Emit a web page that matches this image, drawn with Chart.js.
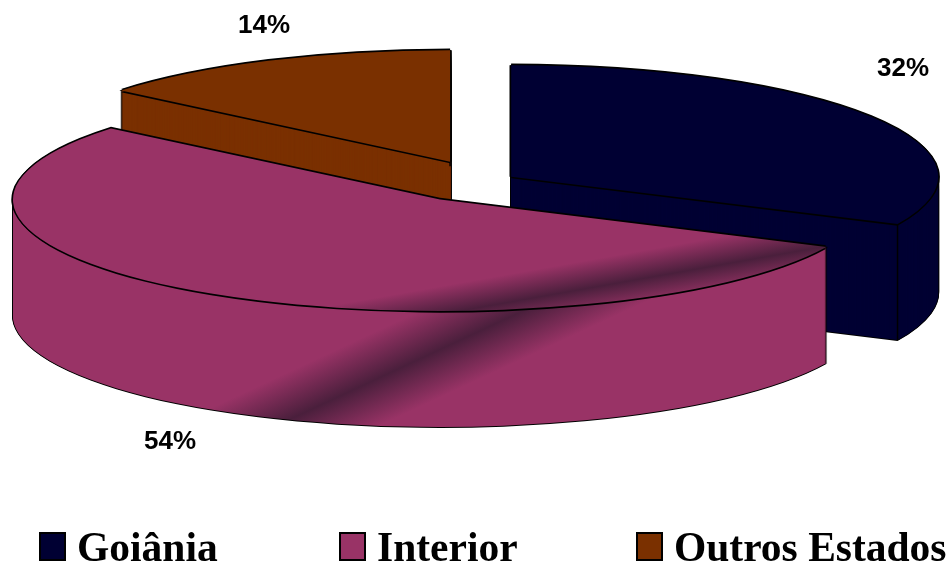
<!DOCTYPE html>
<html>
<head>
<meta charset="utf-8">
<style>
  html, body { margin: 0; padding: 0; background: #fff; }
  canvas { display: block; }
</style>
<script src="https://cdn.jsdelivr.net/npm/chart.js@4/dist/chart.umd.min.js"></script>
</head>
<body>
<canvas id="pie" width="950" height="564"></canvas>
<script>
const categories = ['Goiânia', 'Interior', 'Outros Estados'];
const shares = [32, 54, 14];

const faceColors = ['#000033', '#993366', '#7a3000'];
const SHADE = '#4a1f3c';

// Projection of the flat pie onto a tilted disc with a thick wall.
const TILT = 0.261;
const DEPTH = 116;
const RADIUS = 427;
const HUB = { x: 485, y: 181 };
const pullOut = [31, 84, 82];
const paintOrder = [0, 2, 1];

const pctFont = 'bold 26px "Liberation Sans", Arial, sans-serif';
const pctSpots = [[903, 69], [170, 442], [264, 26]];
const legendFont = 'bold 41.5px "Liberation Serif", "Times New Roman", serif';
const legendBoxes = [40, 340, 637];
const LEGEND_TOP = 533;
const LEGEND_BOX = 25;
const LEGEND_H = 27;
const LEGEND_GAP = 12;

function origin(arc, i) {
  const mid = (arc.startAngle + arc.endAngle) / 2;
  return {
    x: HUB.x + Math.cos(mid) * pullOut[i],
    y: HUB.y + Math.sin(mid) * pullOut[i] * TILT
  };
}

// Fills one arc element through the tilt transform, shifted by (ox, oy) on screen.
function paintArc(ctx, arc, i, ox, oy, fill) {
  const o = origin(arc, i);
  const saved = arc.options;
  const tx = o.x + ox, ty = o.y + oy;
  arc.options = Object.assign({}, saved, {
    backgroundColor: typeof fill === 'function' ? fill(tx, ty, arc) : fill,
    borderWidth: 0
  });
  ctx.save();
  ctx.translate(tx, ty);
  ctx.scale(1, TILT);
  ctx.translate(-arc.x, -arc.y);
  arc.draw(ctx);
  ctx.restore();
  arc.options = saved;
}

// Diagonal dark band given by two screen points, expressed in the tilted space.
function band(ctx, a, b, halfHeight, colors) {
  return (tx, ty, arc) => {
    const toUser = p => ({ x: p.x - tx + arc.x, y: (p.y - ty) / TILT + arc.y });
    const ua = toUser(a), ub = toUser(b);
    const dx = ub.x - ua.x, dy = ub.y - ua.y, len = Math.hypot(dx, dy);
    const n = { x: -dy / len, y: dx / len };
    const reach = (halfHeight / TILT) * n.y;
    const g = ctx.createLinearGradient(
      ua.x - n.x * reach, ua.y - n.y * reach,
      ua.x + n.x * reach, ua.y + n.y * reach);
    g.addColorStop(0, colors[0]);
    g.addColorStop(0.5, colors[1]);
    g.addColorStop(1, colors[0]);
    return g;
  };
}

const tiltedPie = {
  id: 'tiltedPie',
  beforeDatasetsDraw(chart) {
    const ctx = chart.ctx;
    const arcs = chart.getDatasetMeta(0).data;
    const halo = [[-1, 0], [1, 0], [0, -1], [0, 1]];
    const rim = [[-1.7, 0], [1.7, 0], [0, -1.7], [0, 1.7]];

    paintOrder.forEach(i => {
      const arc = arcs[i];
      const color = faceColors[i];
      const isInterior = i === 1;
      const wallFill = isInterior
        ? band(ctx, { x: 310, y: 410 }, { x: 540, y: 303 }, 48, [color, SHADE])
        : color;
      const topFill = isInterior
        ? band(ctx, { x: 680, y: 272 }, { x: 827, y: 246 }, 28, [color, SHADE])
        : color;

      // Outline around the whole extruded shape.
      for (let dy = 0; dy <= DEPTH; dy += 1) {
        halo.forEach(r => paintArc(ctx, arc, i, r[0], dy + r[1], '#000'));
      }
      // Wall, built up from the bottom edge.
      for (let dy = DEPTH; dy >= 1; dy -= 1) {
        paintArc(ctx, arc, i, 0, dy, wallFill);
      }
      // Edge where the cut face meets the curved wall.
      const o = origin(arc, i);
      const ex = o.x + Math.cos(arc.endAngle) * arc.outerRadius;
      const ey = o.y + Math.sin(arc.endAngle) * arc.outerRadius * TILT;
      ctx.save();
      ctx.strokeStyle = '#000';
      ctx.lineWidth = 1.5;
      ctx.beginPath();
      ctx.moveTo(ex, ey);
      ctx.lineTo(ex, ey + DEPTH);
      ctx.stroke();
      ctx.restore();
      // Top face with its outline.
      rim.forEach(r => paintArc(ctx, arc, i, r[0], r[1], '#000'));
      paintArc(ctx, arc, i, 0, 0, topFill);
    });
    return false;
  },
  afterDraw(chart) {
    const ctx = chart.ctx;
    ctx.save();
    ctx.fillStyle = '#000';
    ctx.textBaseline = 'middle';
    ctx.textAlign = 'center';
    ctx.font = pctFont;
    shares.forEach((v, i) => ctx.fillText(v + '%', pctSpots[i][0], pctSpots[i][1]));

    ctx.textAlign = 'left';
    ctx.textBaseline = 'alphabetic';
    ctx.font = legendFont;
    categories.forEach((name, i) => {
      const x = legendBoxes[i];
      ctx.fillStyle = faceColors[i];
      ctx.fillRect(x, LEGEND_TOP, LEGEND_BOX, LEGEND_H);
      ctx.strokeStyle = '#000';
      ctx.lineWidth = 2;
      ctx.strokeRect(x, LEGEND_TOP, LEGEND_BOX, LEGEND_H);
      ctx.fillStyle = '#000';
      ctx.fillText(name, x + LEGEND_BOX + LEGEND_GAP, LEGEND_TOP + LEGEND_H + 1);
    });
    ctx.restore();
  }
};

new Chart(document.getElementById('pie'), {
  type: 'pie',
  data: {
    labels: categories,
    datasets: [{ data: shares, backgroundColor: faceColors, borderWidth: 0 }]
  },
  options: {
    responsive: false,
    animation: false,
    radius: RADIUS,
    layout: { padding: 0 },
    plugins: { legend: { display: false }, tooltip: { enabled: false } }
  },
  plugins: [tiltedPie]
});
</script>
</body>
</html>
